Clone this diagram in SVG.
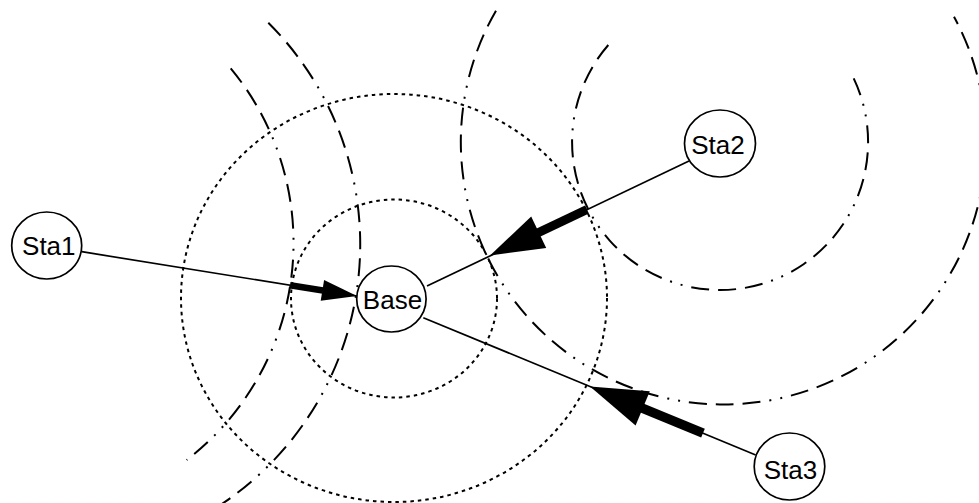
<svg xmlns="http://www.w3.org/2000/svg" width="979" height="503" viewBox="0 0 979 503">
<style>
.bg{fill:#ffffff}
.dot{fill:none;stroke:#000;stroke-width:2;stroke-dasharray:3.5 4}
.dd{fill:none;stroke:#000;stroke-width:2;stroke-dasharray:18 9 18 9 18 9 2 9 2 9}
.ln{fill:none;stroke:#000;stroke-width:1.7}
.shaft{fill:none;stroke:#000;stroke-linecap:butt}
.head{fill:#000;stroke:none}
.node ellipse{fill:#fff;stroke:#000;stroke-width:1.7}
.node text{font-family:"Liberation Sans",Arial,sans-serif;font-size:26px;text-anchor:middle;fill:#000}
</style>
<rect class="bg" x="0" y="0" width="979" height="503"/>
<g id="ranges">
  <ellipse class="dot" cx="394" cy="298.5" rx="103" ry="99"/>
  <ellipse class="dot" cx="394" cy="298" rx="213" ry="204"/>
  <path class="dd" d="M 230.7 68.3 A 274 274 0 0 1 186.7 460"/>
  <path class="dd" d="M 268.3 22.7 A 313 313 0 0 1 204.3 515"/>
  <path class="dd" d="M 608.3 45 A 148 148 0 1 0 851.7 74.3"/>
  <path class="dd" d="M 496 10.7 A 262.5 262.5 0 1 0 954 16.7"/>
</g>
<g id="connectors">
  <path class="ln" d="M 81.7 251.7 L 357 296"/>
  <path class="shaft" stroke-width="6.5" d="M 290 285.2 L 323 290.5"/>
  <polygon class="head" points="357,296 324.1,280 320.7,300.8"/>
  <path class="ln" d="M 689 161 L 427 286"/>
  <path class="shaft" stroke-width="9" d="M 587 209.5 L 537 233.3"/>
  <polygon class="head" points="490,255.5 546.2,248 531.2,216.4"/>
  <path class="ln" d="M 755.7 455 L 423.3 317.7"/>
  <path class="shaft" stroke-width="9.5" d="M 703 433.2 L 641 407.6"/>
  <polygon class="head" points="590,386.6 649.8,391.3 635.6,425.5"/>
</g>
<g id="Sta1" class="node">
  <ellipse cx="46.7" cy="245.5" rx="35" ry="33.5"/>
  <text x="48.8" y="255">Sta1</text>
</g>
<g id="Base" class="node">
  <ellipse cx="391.4" cy="299" rx="34.7" ry="33"/>
  <text x="392.5" y="309.3">Base</text>
</g>
<g id="Sta2" class="node">
  <ellipse cx="720" cy="143.5" rx="35.5" ry="33.5"/>
  <text x="718" y="154">Sta2</text>
</g>
<g id="Sta3" class="node">
  <ellipse cx="789.5" cy="466.5" rx="35.3" ry="33.5"/>
  <text x="790.5" y="478.7">Sta3</text>
</g>
</svg>
